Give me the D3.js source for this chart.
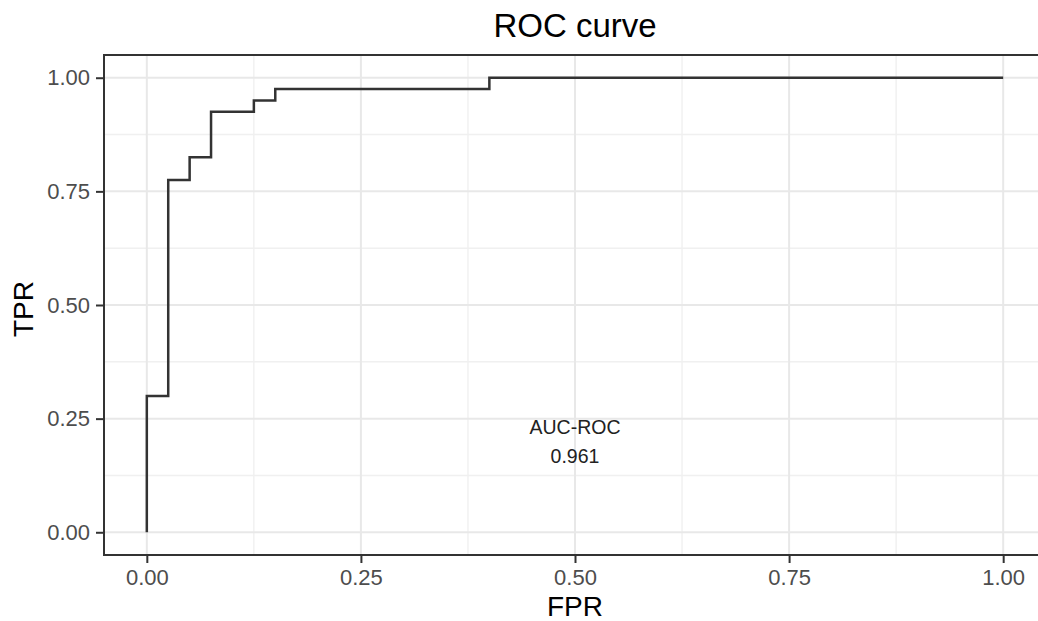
<!DOCTYPE html>
<html>
<head>
<meta charset="utf-8">
<script src="https://cdn.jsdelivr.net/npm/d3@7"></script>
<style>
    body { margin: 0; background: #fff; }
    svg text { font-family: "Liberation Sans", Arial, sans-serif; }
</style>
</head>
<body>
<svg id="chart" width="1038" height="621"></svg>
<script>
// ROC step points (false positive rate, true positive rate)
const fpr = [0, 0, 0.025, 0.05, 0.075, 0.125, 0.15, 0.4, 1];
const tpr = [0, 0.3, 0.775, 0.825, 0.925, 0.95, 0.975, 1, 1];
const majorTicks = [0, 0.25, 0.5, 0.75, 1];
const minorTicks = [0.125, 0.375, 0.625, 0.875];
const aucLabel = ["AUC-ROC", "0.961"];
const aucPos = {x: 0.5, y: 0.2};

window.onload = function(e){
    drawChart();
};

function drawChart(){
    const svg = d3.select("#chart");
    const panel = {left: 104, right: 1046, top: 55, bottom: 555};

    // ggplot style 5% expansion
    let x = d3.scaleLinear().domain([-0.05, 1.05]).range([panel.left, panel.right]);
    let y = d3.scaleLinear().domain([-0.05, 1.05]).range([panel.bottom, panel.top]);

    let grid = svg.append("g");
    //Minor grid
    grid.selectAll(".minx").data(minorTicks).enter().append("line")
        .attr("x1", d=>x(d)).attr("x2", d=>x(d))
        .attr("y1", panel.top).attr("y2", panel.bottom)
        .attr("stroke", "#f0f0f0").attr("stroke-width", 1.4);
    grid.selectAll(".miny").data(minorTicks).enter().append("line")
        .attr("y1", d=>y(d)).attr("y2", d=>y(d))
        .attr("x1", panel.left).attr("x2", panel.right)
        .attr("stroke", "#f0f0f0").attr("stroke-width", 1.4);
    //Major grid
    grid.selectAll(".majx").data(majorTicks).enter().append("line")
        .attr("x1", d=>x(d)).attr("x2", d=>x(d))
        .attr("y1", panel.top).attr("y2", panel.bottom)
        .attr("stroke", "#e8e8e8").attr("stroke-width", 2);
    grid.selectAll(".majy").data(majorTicks).enter().append("line")
        .attr("y1", d=>y(d)).attr("y2", d=>y(d))
        .attr("x1", panel.left).attr("x2", panel.right)
        .attr("stroke", "#e8e8e8").attr("stroke-width", 2);

    //ROC curve
    let line = d3.line()
        .x(d=>x(d[0]))
        .y(d=>y(d[1]))
        .curve(d3.curveStepAfter);
    svg.append("path")
        .datum(fpr.map((f, i)=>[f, tpr[i]]))
        .attr("d", line)
        .attr("fill", "none")
        .attr("stroke", "#333")
        .attr("stroke-width", 2.5);

    //AUC annotation
    let ann = svg.append("text")
        .attr("x", x(aucPos.x))
        .attr("y", y(aucPos.y))
        .attr("text-anchor", "middle")
        .attr("font-size", 19.5)
        .attr("fill", "#222");
    aucLabel.forEach((t, i)=>{
        ann.append("tspan")
            .attr("x", x(aucPos.x))
            .attr("dy", i == 0 ? -7 : 29)
            .text(t);
    });

    //Panel border
    svg.append("rect")
        .attr("x", panel.left).attr("y", panel.top)
        .attr("width", panel.right - panel.left)
        .attr("height", panel.bottom - panel.top)
        .attr("fill", "none")
        .attr("stroke", "#333").attr("stroke-width", 2);

    //Axes
    const fmt = d3.format(".2f");
    let xAxis = svg.append("g")
        .attr("transform", `translate(0,${panel.bottom})`)
        .call(d3.axisBottom(x).tickValues(majorTicks).tickFormat(fmt).tickSize(8).tickPadding(6));
    let yAxis = svg.append("g")
        .attr("transform", `translate(${panel.left},0)`)
        .call(d3.axisLeft(y).tickValues(majorTicks).tickFormat(fmt).tickSize(8).tickPadding(6));
    for (let ax of [xAxis, yAxis]){
        ax.select(".domain").remove();
        ax.selectAll(".tick line").attr("stroke", "#333").attr("stroke-width", 2);
        ax.selectAll(".tick text")
            .attr("fill", "#4d4d4d")
            .attr("font-size", 22)
            .attr("font-family", "Liberation Sans, Arial, sans-serif");
    }

    //Titles
    let cx = (panel.left + panel.right) / 2;
    svg.append("text")
        .attr("x", cx).attr("y", 37)
        .attr("text-anchor", "middle")
        .attr("font-size", 33)
        .attr("fill", "#000")
        .text("ROC curve");
    svg.append("text")
        .attr("x", cx).attr("y", 616)
        .attr("text-anchor", "middle")
        .attr("font-size", 28)
        .attr("fill", "#000")
        .text("FPR");
    svg.append("text")
        .attr("transform", `translate(33,${(panel.top + panel.bottom) / 2 + 4}) rotate(-90)`)
        .attr("text-anchor", "middle")
        .attr("font-size", 28)
        .attr("fill", "#000")
        .text("TPR");
}
</script>
</body>
</html>
